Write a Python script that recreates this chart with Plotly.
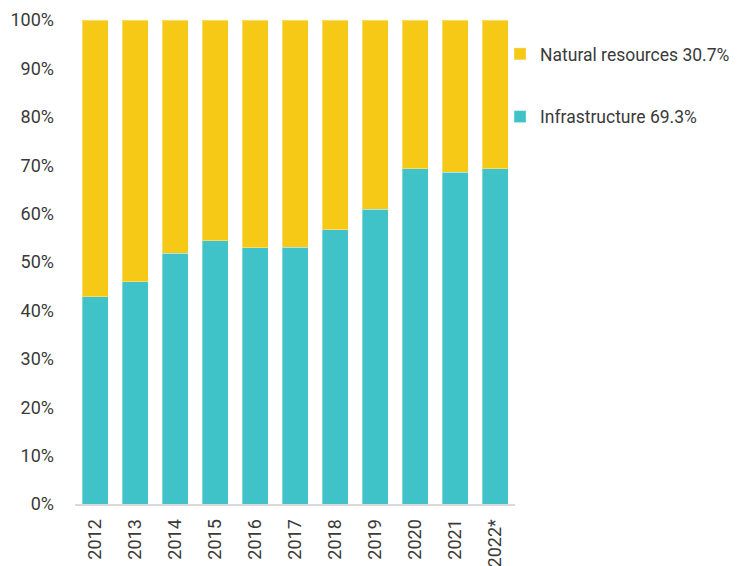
import plotly.graph_objects as go

years = ["2012", "2013", "2014", "2015", "2016", "2017", "2018", "2019", "2020", "2021", "2022*"]
infrastructure = [42.8, 45.9, 51.8, 54.4, 52.9, 53.1, 56.7, 60.9, 69.3, 68.5, 69.3]
natural_resources = [round(100 - v, 1) for v in infrastructure]
y_ticks = [0, 10, 20, 30, 40, 50, 60, 70, 80, 90, 100]
y_tick_labels = [f"{v}%" for v in y_ticks]

TEAL = "#40C3C8"
YELLOW = "#F5C916"
FONT = "Roboto"
TEXT = "#3a3a3a"

fig = go.Figure()
fig.add_trace(go.Bar(
    x=years, y=infrastructure, name="Infrastructure 69.3%",
    marker=dict(color=TEAL, line=dict(color="rgba(255,255,255,0.35)", width=1)),
    legendgroup="a", legendrank=2,
))
fig.add_trace(go.Bar(
    x=years, y=natural_resources, name="Natural resources 30.7%",
    marker=dict(color=YELLOW, line=dict(color="rgba(255,255,255,0.35)", width=1)),
    legendgroup="b", legendrank=1,
))

fig.update_layout(
    barmode="stack",
    bargap=0.35,
    width=738, height=566,
    margin=dict(l=67, r=231, t=12, b=70, autoexpand=False),
    plot_bgcolor="white", paper_bgcolor="white",
    font=dict(family=FONT, color=TEXT, size=18),
    showlegend=True,
    legend=dict(
        x=0.966, xanchor="left", y=0.967, yanchor="top",
        traceorder="grouped", tracegroupgap=37,
        font=dict(family=FONT, size=17.5, color=TEXT),
        itemwidth=30, bgcolor="rgba(0,0,0,0)",
    ),
    xaxis=dict(
        type="category", tickangle=-90, showline=True, linecolor="#D9D9D9", linewidth=2,
        ticks="", showgrid=False, automargin=False, ticklabelstandoff=6,
        tickfont=dict(family=FONT, size=18, color=TEXT),
        range=[-0.5, 10.5],
    ),
    yaxis=dict(
        range=[0, 100], tickvals=y_ticks, ticktext=y_tick_labels, showgrid=False,
        zeroline=False, showline=False, ticks="", automargin=False, ticklabelstandoff=20,
        tickfont=dict(family=FONT, size=18, color=TEXT),
    ),
)

fig.write_html("out.html")
